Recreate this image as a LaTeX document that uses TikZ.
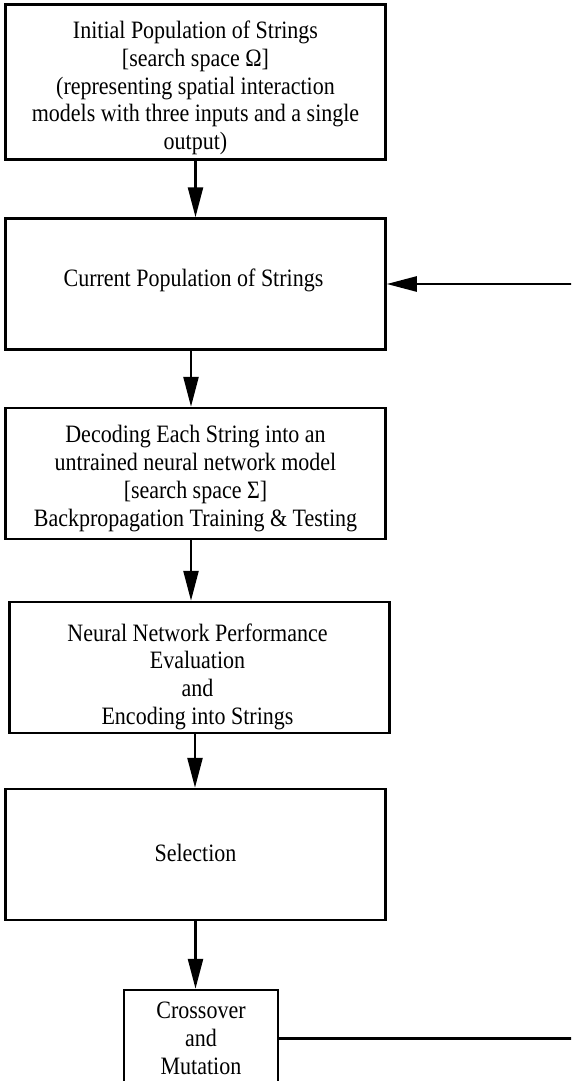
\documentclass[tikz,border=0pt]{standalone}
\usepackage{fontspec}
\setmainfont{Liberation Serif}
\newfontfamily\boxfont[FakeStretch=0.88]{Liberation Serif}
\usetikzlibrary{arrows.meta}
\begin{document}
\begin{tikzpicture}[x=1pt,y=-1pt,
  box/.style={draw, line width=2.5pt, inner sep=0pt},
  txt/.style={inner sep=0pt, align=center,
    font=\boxfont\fontsize{25}{27.7}\selectfont},
  arr/.style={line width=2.5pt, -{Triangle[length=30pt,width=15pt]}},
  link/.style={line width=2.5pt}]
\useasboundingbox (0,0) rectangle (571,1081);
\clip (0,0) rectangle (571,1081);

% process boxes
\node[box, minimum width=380pt, minimum height=155pt] (b1) at (195.5,82) {};
\node[box, minimum width=380pt, minimum height=131pt] (b2) at (195.5,284) {};
\node[box, minimum width=380pt, minimum height=131pt] (b3) at (195.5,473.5) {};
\node[box, minimum width=380pt, minimum height=131pt] (b4) at (199.5,667.5) {};
\node[box, minimum width=380pt, minimum height=131pt] (b5) at (195.5,854.5) {};
\node[box, minimum width=154pt, minimum height=97pt] (b6) at (201,1038.5) {};

% box texts
\node[txt] (t1) at ([yshift=-6pt]b1.center)
  {Initial Population of Strings\\ {[}search space Ω{]}\\
   (representing spatial interaction\\ models with three inputs and a single\\ output)};
\node[txt] (t2) at ([xshift=-2pt,yshift=4pt]b2.center) {Current Population of Strings};
\node[txt] (t3) at ([yshift=-5pt]b3.center)
  {Decoding Each String into an\\ untrained neural network model\\
   {[}search space Σ{]}\\ Backpropagation Training \& Testing};
\node[txt] (t4) at ([xshift=-2pt,yshift=-9pt]b4.center)
  {Neural Network Performance\\ Evaluation\\ and\\ Encoding into Strings};
\node[txt] (t5) at ([yshift=2pt]b5.center) {Selection};
\node[txt] (t6) at (b6.center) {Crossover\\ and\\ Mutation};

% feedback path leaving the picture on the right
\coordinate (fbout) at (575,1038.5);
\coordinate (fbin) at (575,284);

% flow arrows
\draw[arr] (b1.south) -- (b2.north);
\draw[arr] ([xshift=-4.5pt]b2.south) -- ([xshift=-4.5pt]b2.south |- b3.north);
\draw[arr] ([xshift=-4.5pt]b3.south) -- ([xshift=-4.5pt]b3.south |- b4.north);
\draw[arr] ([xshift=-4.5pt]b4.south) -- ([xshift=-4.5pt]b4.south |- b5.north);
\draw[arr] (b5.south) -- (b5.south |- b6.north);
\draw[link] (b6.east) -- (fbout);
\draw[arr] (fbin) -- (b2.east);
\end{tikzpicture}
\end{document}
